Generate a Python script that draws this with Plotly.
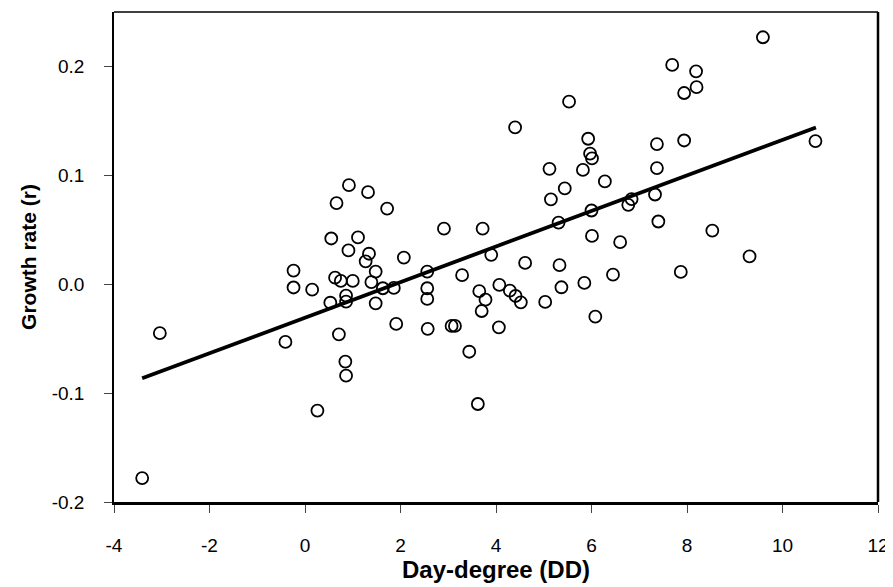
import plotly.graph_objects as go

# === Datos ===
dd = [-3.41, -3.04, -0.41, -0.24, -0.24, 0.15, 0.26, 0.53, 0.63, 0.75,
      0.71, 0.86, 0.86, 0.845, 0.86, 1.00, 0.91, 1.27, 1.39, 0.92,
      0.66, 1.32, 0.55, 1.11, 1.34, 1.72, 2.91, 3.72, 4.40, 5.53,
      5.93, 5.97, 6.01, 5.12, 5.82, 6.28, 5.44, 5.15, 6.00, 5.31,
      6.01, 2.07, 3.90, 6.60, 9.59, 7.69, 8.19, 8.20, 7.94, 7.37,
      7.94, 10.69, 7.37, 7.33, 6.84, 6.77, 7.40, 8.53, 9.31, 1.48,
      1.63, 1.86, 1.48, 1.91, 2.56, 2.56, 2.56, 2.57, 3.29, 3.65,
      3.78, 3.70, 3.07, 3.14, 3.44, 3.62, 4.07, 4.06, 4.29, 4.41,
      4.52, 4.61, 5.03, 5.33, 5.37, 5.85, 6.08, 6.45, 7.87]

growth = [-0.178, -0.045, -0.053, 0.0125, -0.003, -0.005, -0.116, -0.017, 0.006, 0.003,
          -0.046, -0.0105, -0.016, -0.071, -0.084, 0.003, 0.031, 0.021, 0.002, 0.091,
          0.0745, 0.0845, 0.042, 0.043, 0.028, 0.0695, 0.051, 0.051, 0.144, 0.1676,
          0.1336, 0.120, 0.1155, 0.106, 0.105, 0.0944, 0.088, 0.078, 0.0677, 0.0566,
          0.0444, 0.0245, 0.027, 0.0386, 0.2268, 0.2014, 0.1955, 0.181, 0.1756, 0.1287,
          0.132, 0.1315, 0.1067, 0.0824, 0.0782, 0.0729, 0.0576, 0.0493, 0.0255, 0.0116,
          -0.0037, -0.0034, -0.0175, -0.0365, 0.0116, -0.0037, -0.0135, -0.041, 0.0083, -0.0064,
          -0.0142, -0.0246, -0.0383, -0.0383, -0.062, -0.110, -0.0006, -0.0396, -0.0059, -0.0108,
          -0.0166, 0.0196, -0.0163, 0.0175, -0.0028, 0.0012, -0.0298, 0.0088, 0.0113]

# recta de regresion (extremos)
fit_x = [-3.41, 10.70]
fit_y = [-0.0864, 0.144]

x_ticks = [-4, -2, 0, 2, 4, 6, 8, 10, 12]
x_ticklabels = ["-4", "-2", "0", "2", "4", "6", "8", "10", "12"]
y_ticks = [-0.2, -0.1, 0.0, 0.1, 0.2]
y_ticklabels = ["-0.2", "-0.1", "0.0", "0.1", "0.2"]

FONT = "Liberation Sans, Arial, sans-serif"

fig = go.Figure()

fig.add_trace(go.Scatter(
    x=dd, y=growth,
    mode="markers",
    marker=dict(symbol="circle-open", size=12, color="black", line=dict(width=1.8)),
    showlegend=False,
))

fig.add_trace(go.Scatter(
    x=fit_x, y=fit_y,
    mode="lines",
    line=dict(color="black", width=3.8),
    showlegend=False,
))

# la pagina html deja 8px de margen en el body -> se descuenta aqui
fig.update_layout(
    width=885, height=579, autosize=False,
    margin=dict(l=106, r=13, t=4, b=85),
    plot_bgcolor="white", paper_bgcolor="white",
    font=dict(family=FONT, color="black"),
    xaxis=dict(
        range=[-4, 12], tickvals=x_ticks, ticktext=x_ticklabels,
        showgrid=False, zeroline=False,
        showline=True, linecolor="black", linewidth=2.5,
        ticks="outside", ticklen=8, tickwidth=1, tickcolor="#444",
        ticklabelstandoff=16,
        tickfont=dict(size=19),
        title=dict(text="Day-degree (DD)", font=dict(size=24, weight="bold"), standoff=0),
    ),
    yaxis=dict(
        range=[-0.2, 0.25], tickvals=y_ticks, ticktext=y_ticklabels,
        showgrid=False, zeroline=False,
        showline=True, linecolor="black", linewidth=1.5,
        ticks="outside", ticklen=8, tickwidth=1, tickcolor="#444",
        ticklabelstandoff=16,
        tickfont=dict(size=19),
        title=dict(text="Growth rate (r)", font=dict(size=21, weight="bold"), standoff=9),
    ),
    shapes=[
        dict(type="line", xref="paper", yref="paper", x0=0, x1=1, y0=1, y1=1,
             line=dict(color="black", width=1.5)),
        dict(type="line", xref="paper", yref="paper", x0=1, x1=1, y0=0, y1=1,
             line=dict(color="black", width=2.5)),
    ],
)

fig.write_html("out.html")
